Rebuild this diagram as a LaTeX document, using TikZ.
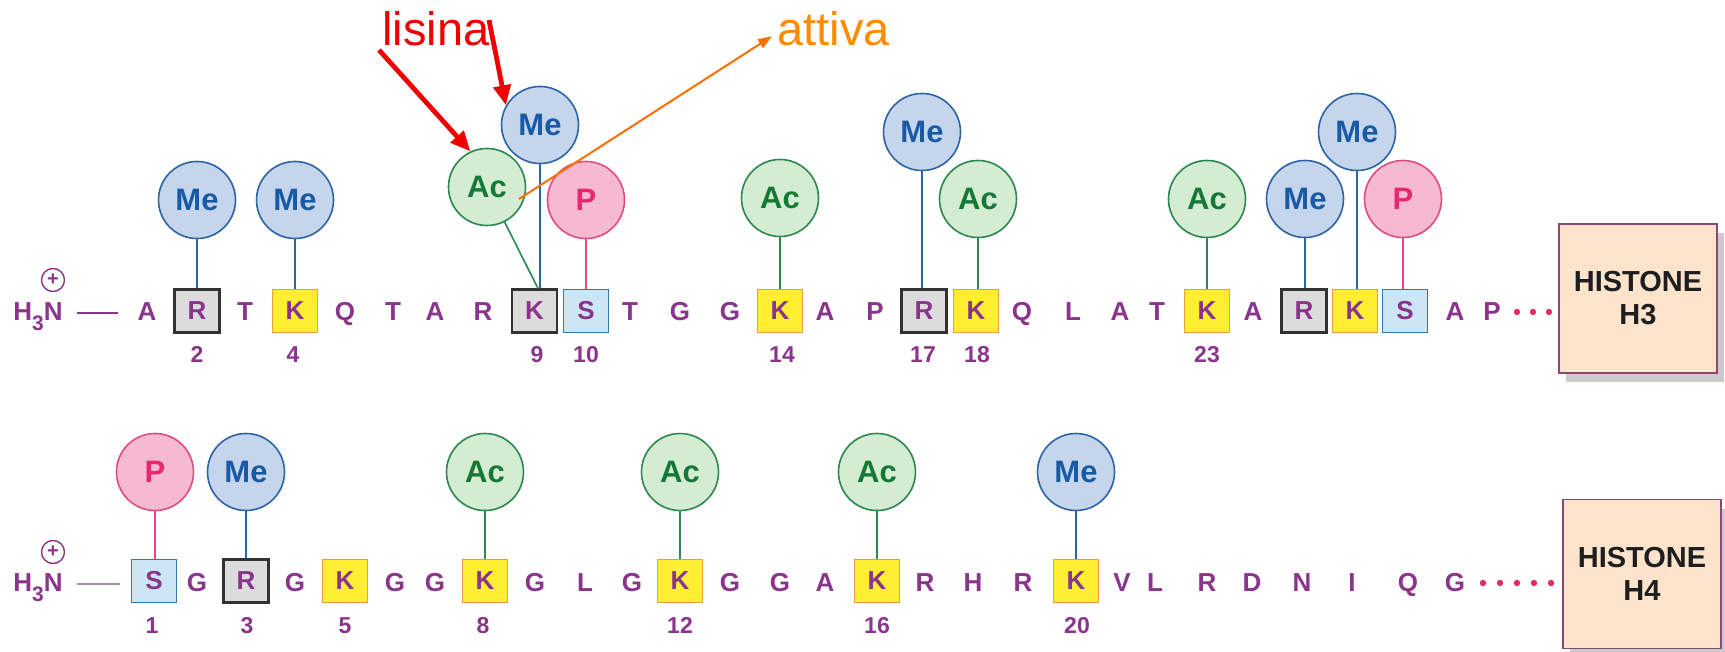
\documentclass[tikz,border=0pt]{standalone}
\usepackage{fontspec}
\setmainfont{Liberation Sans}
\usetikzlibrary{arrows.meta,shadows}
\definecolor{seqc}{RGB}{138,52,140}
\definecolor{bondtwo}{RGB}{170,140,170}
\definecolor{meF}{RGB}{197,213,236}
\definecolor{meD}{RGB}{45,100,165}
\definecolor{meT}{RGB}{25,90,165}
\definecolor{acF}{RGB}{212,236,210}
\definecolor{acD}{RGB}{45,135,80}
\definecolor{acT}{RGB}{20,120,55}
\definecolor{pF}{RGB}{246,185,210}
\definecolor{pD}{RGB}{225,75,125}
\definecolor{pT}{RGB}{230,40,110}
\definecolor{grayF}{RGB}{220,220,220}
\definecolor{grayD}{RGB}{50,50,50}
\definecolor{yelF}{RGB}{255,238,50}
\definecolor{yelD}{RGB}{232,160,60}
\definecolor{bluF}{RGB}{205,230,245}
\definecolor{bluD}{RGB}{55,120,170}
\definecolor{dotC}{RGB}{225,45,100}
\definecolor{histF}{RGB}{252,228,204}
\definecolor{histD}{RGB}{140,70,120}
\definecolor{histT}{RGB}{30,30,30}
\definecolor{annRed}{RGB}{240,0,0}
\definecolor{annOr}{RGB}{255,140,0}
\definecolor{arrOr}{RGB}{255,110,0}
\newcommand\hSeqFont{\fontsize{13}{14}\selectfont\bfseries}
\newcommand\hNumFont{\fontsize{11.5}{12}\selectfont\bfseries}
\newcommand\hModFont{\fontsize{15.5}{17}\selectfont\bfseries}
\newcommand\hHistFont{\fontsize{14.5}{16.5}\selectfont\bfseries}
\newcommand\hAnnFont{\fontsize{23.5}{26}\selectfont}
\newcommand\hSubThree{\lower5pt\hbox{\fontsize{10.5}{10}\selectfont\bfseries 3}}
\begin{document}
\begin{tikzpicture}[x=0.5pt,y=-0.5pt,
  aa/.style={font=\hSeqFont, text=seqc, anchor=base, inner sep=0pt},
  num/.style={font=\hNumFont, text=seqc, anchor=base, inner sep=0pt},
  resbox/.style={rectangle, font=\hSeqFont, text=seqc, minimum width=22.5pt, minimum height=21.5pt, inner sep=0pt},
  graybox/.style={resbox, fill=grayF, draw=grayD, line width=1.1pt},
  yelbox/.style={resbox, fill=yelF, draw=yelD, line width=0.7pt},
  blubox/.style={resbox, fill=bluF, draw=bluD, line width=0.8pt},
  modc/.style={circle, minimum size=38.5pt, inner sep=0pt, line width=0.8pt, font=\hModFont},
  mecirc/.style={modc, fill=meF, draw=meD, text=meT},
  accirc/.style={modc, fill=acF, draw=acD, text=acT},
  pcirc/.style={modc, fill=pF, draw=pD, text=pT},
  meline/.style={draw=meD, line width=0.8pt},
  acline/.style={draw=acD, line width=0.8pt},
  pline/.style={draw=pD, line width=0.8pt},
  bond/.style={line width=1pt, draw=seqc},
  plusc/.style={circle, draw=seqc, line width=0.7pt, minimum size=11.5pt, inner sep=0pt, text=seqc, font=\fontsize{10}{10}\selectfont\bfseries},
  histbox/.style={rectangle, fill=histF, draw=histD, line width=0.9pt, minimum width=79pt, minimum height=74.5pt, align=center, font=\hHistFont, text=histT, drop shadow={shadow xshift=3.5pt, shadow yshift=-4.5pt, fill=black!45, opacity=0.45}},
  redarr/.style={draw=annRed, line width=2.4pt, -{Triangle[length=10pt,width=8.5pt]}},
  orarr/.style={draw=arrOr, line width=1pt, -{Triangle[length=7pt,width=5pt]}},
  seqdot/.style={fill=dotC}
]
\useasboundingbox[fill=white] (0,0) rectangle (1725,652);

% ---------------- Histone H3 row ----------------
\node[aa, anchor=base west] (h3n) at (13,321) {H\hSubThree N};
\node[plusc] (plus1) at (53,280) {+};
\coordinate (bd1a) at (77,313);
\coordinate (bd1b) at (118,313);
\draw[bond] (bd1a) -- (bd1b);

\foreach \x/\l [count=\i] in {147/A, 245/T, 345/Q, 393/T, 435/A, 483/R, 630/T, 680/G, 730/G, 825/A, 875/P, 1022/Q, 1073/L, 1120/A, 1157/T, 1253/A, 1455/A, 1492/P}
  \node[aa] (hthree\i) at (\x,321) {\l};

\node[graybox] (r2) at (197,311) {R};
\node[yelbox] (k4) at (295,311) {K};
\node[graybox] (k9) at (534.5,311) {K};
\node[blubox] (s10) at (586,311) {S};
\node[yelbox] (k14) at (780,311) {K};
\node[graybox] (r17) at (924,311) {R};
\node[yelbox] (k18) at (976,311) {K};
\node[yelbox] (k23) at (1207,311) {K};
\node[graybox] (r25) at (1304,311) {R};
\node[yelbox] (k26) at (1355,311) {K};
\node[blubox] (s27) at (1405,311) {S};

\foreach \x/\n in {197/2, 293/4, 537/9, 586/10, 782/14, 923/17, 977/18, 1207/23}
  \node[num] (nthree\n) at (\x,363) {\n};

\foreach \x [count=\i] in {1517,1533,1549}
  \fill[seqdot] (\x,312) circle (1.6pt);

\node[mecirc] (me2) at (197,200) {Me};
\node[mecirc] (me4) at (295,200) {Me};
\node[accirc] (ac9) at (487,187) {Ac};
\node[mecirc] (me9) at (540,125) {Me};
\node[pcirc] (p10) at (586,200) {P};
\node[accirc] (ac14) at (780,198) {Ac};
\node[mecirc] (me17) at (922,132) {Me};
\node[accirc] (ac18) at (978,199) {Ac};
\node[accirc] (ac23) at (1207,199) {Ac};
\node[mecirc] (me25) at (1305,199) {Me};
\node[mecirc] (me26) at (1357,132) {Me};
\node[pcirc] (p27) at (1403,199) {P};

\draw[meline] (me2.south) -- (me2.south |- r2.north);
\draw[meline] (me4.south) -- (me4.south |- k4.north);
\draw[acline] (ac9) -- ([xshift=1.75pt]k9.north);
\draw[meline] (me9.south) -- (me9.south |- k9.north);
\draw[pline] (p10.south) -- (p10.south |- s10.north);
\draw[acline] (ac14.south) -- (ac14.south |- k14.north);
\draw[meline] (me17.south) -- (me17.south |- r17.north);
\draw[acline] (ac18.south) -- (ac18.south |- k18.north);
\draw[acline] (ac23.south) -- (ac23.south |- k23.north);
\draw[meline] (me25.south) -- (me25.south |- r25.north);
\draw[meline] (me26.south) -- (me26.south |- k26.north);
\draw[pline] (p27.south) -- (p27.south |- s27.north);

\node[histbox] (hist3) at (1638,298.5) {HISTONE\\H3};

% ---------------- Histone H4 row ----------------
\node[aa, anchor=base west] (h4n) at (13,591) {H\hSubThree N};
\node[plusc] (plus2) at (53,552) {+};
\coordinate (bd2a) at (77,584);
\coordinate (bd2b) at (120,584);
\draw[bond, draw=bondtwo] (bd2a) -- (bd2b);

\foreach \x/\l [count=\i] in {197/G, 295/G, 395/G, 435/G, 535/G, 585/L, 632/G, 730/G, 780/G, 825/A, 925/R, 973/H, 1023/R, 1122/V, 1155/L, 1207/R, 1252/D, 1302/N, 1352/I, 1408/Q, 1455/G}
  \node[aa] (hfour\i) at (\x,591) {\l};

\node[blubox] (s1) at (154,581) {S};
\node[graybox] (r3) at (246,581) {R};
\node[yelbox] (k5) at (345,581) {K};
\node[yelbox] (k8) at (485,581) {K};
\node[yelbox] (k12) at (680,581) {K};
\node[yelbox] (k16) at (877,581) {K};
\node[yelbox] (k20) at (1076,581) {K};

\foreach \x/\n in {152/1, 247/3, 345/5, 483/8, 680/12, 877/16, 1077/20}
  \node[num] (nfour\n) at (\x,633) {\n};

\foreach \x in {1483,1500,1517,1534,1551}
  \fill[seqdot] (\x,583) circle (1.6pt);

\node[pcirc] (pp1) at (155,472) {P};
\node[mecirc] (mm3) at (246,472) {Me};
\node[accirc] (aa8) at (485,472) {Ac};
\node[accirc] (aa12) at (680,472) {Ac};
\node[accirc] (aa16) at (877,472) {Ac};
\node[mecirc] (mm20) at (1076,472) {Me};

\draw[pline] (pp1.south) -- (pp1.south |- s1.north);
\draw[meline] (mm3.south) -- (mm3.south |- r3.north);
\draw[acline] (aa8.south) -- (aa8.south |- k8.north);
\draw[acline] (aa12.south) -- (aa12.south |- k12.north);
\draw[acline] (aa16.south) -- (aa16.south |- k16.north);
\draw[meline] (mm20.south) -- (mm20.south |- k20.north);

\node[histbox] (hist4) at (1642,574) {HISTONE\\H4};

% ---------------- annotations ----------------
\node[font=\hAnnFont, text=annRed, anchor=base west, inner sep=0pt] (lisina) at (382,46) {lisina};
\node[font=\hAnnFont, text=annOr, anchor=base west, inner sep=0pt] (attiva) at (777,46) {attiva};
\coordinate (la1) at (379,50);
\coordinate (la2) at (489,20);
\coordinate (oa) at (519,199);
\draw[redarr] (la1) -- (ac9.115);
\draw[redarr] (la2) -- (me9.150);
\draw[orarr] (oa) -- ([xshift=-2.5pt,yshift=-3.5pt]attiva.west);
\end{tikzpicture}
\end{document}
